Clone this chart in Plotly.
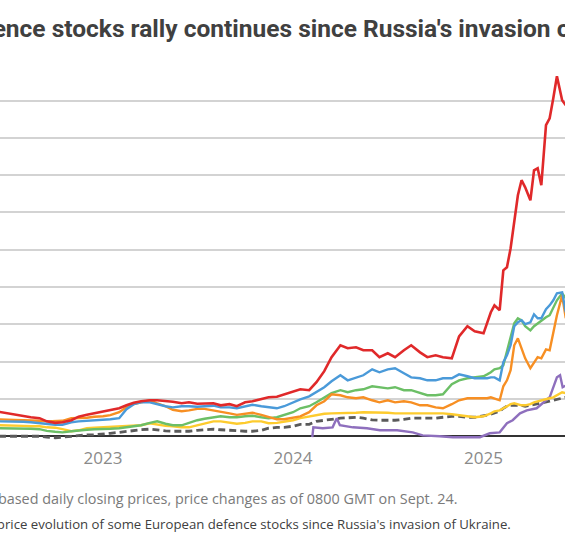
import plotly.graph_objects as go

# semi-monthly closing dates (weekly from 2025)
dates = [
    "2022-06-15", "2022-07-01", "2022-07-15", "2022-08-01", "2022-08-15", "2022-09-01", "2022-09-15",
    "2022-10-01", "2022-10-15", "2022-11-01", "2022-11-15", "2022-12-01", "2022-12-15",
    "2023-01-01", "2023-01-15", "2023-02-01", "2023-02-15", "2023-03-01", "2023-03-15",
    "2023-04-01", "2023-04-15", "2023-05-01", "2023-05-15", "2023-06-01", "2023-06-15",
    "2023-07-01", "2023-07-15", "2023-08-01", "2023-08-15", "2023-09-01", "2023-09-15",
    "2023-10-01", "2023-10-15", "2023-11-01", "2023-11-15", "2023-12-01", "2023-12-15",
    "2024-01-01", "2024-01-15", "2024-02-01", "2024-02-15", "2024-03-01", "2024-03-15",
    "2024-04-01", "2024-04-15", "2024-05-01", "2024-05-15", "2024-06-01", "2024-06-15",
    "2024-07-01", "2024-07-15", "2024-08-01", "2024-08-15", "2024-09-01", "2024-09-15",
    "2024-10-01", "2024-10-15", "2024-11-01", "2024-11-15", "2024-12-01", "2024-12-15",
    "2025-01-01", "2025-01-08", "2025-01-15", "2025-01-22", "2025-02-01", "2025-02-08",
    "2025-02-15", "2025-02-22", "2025-03-01", "2025-03-08", "2025-03-15", "2025-03-22",
    "2025-04-01", "2025-04-08", "2025-04-15", "2025-04-22", "2025-05-01", "2025-05-08",
    "2025-05-15", "2025-05-22", "2025-06-01", "2025-06-08",
]

# % change since the invasion
red = [131, 123, 118, 110, 102, 97, 80, 72, 75, 86, 105, 115, 123,
       131, 139, 150, 166, 180, 188, 193, 193, 190, 185, 177, 182, 174, 177, 177, 166, 172, 161, 182, 188, 198, 209, 212, 225,
       241, 252, 247, 290, 349, 424, 488, 472, 477, 461, 461, 424, 445, 424, 461, 488, 450, 424, 434, 424, 418, 536, 590, 563,
       552, 606, 665, 702, 676, 890, 906, 1008, 1147, 1292, 1373, 1335, 1265, 1426, 1437, 1346, 1668, 1705, 1812, 1930, 1802, 1775]
blue = [80, 80, 80, 78, 75, 70, 64, 62, 62, 75, 80, 83, 86,
        86, 91, 97, 145, 172, 182, 182, 172, 161, 155, 161, 161, 158, 161, 164, 155, 155, 150, 161, 169, 161, 155, 150, 161,
        182, 198, 214, 236, 263, 295, 327, 300, 316, 327, 359, 343, 359, 365, 338, 316, 311, 300, 300, 311, 311, 332, 322, 311,
        311, 311, 316, 316, 300, 397, 434, 488, 590, 611, 622, 601, 611, 654, 633, 633, 681, 702, 729, 767, 772, 665]
green = [43, 43, 43, 43, 40, 38, 29, 24, 21, 27, 32, 35, 38,
         38, 40, 43, 48, 54, 59, 72, 80, 67, 59, 59, 72, 86, 94, 102, 107, 102, 102, 107, 110, 102, 97, 102, 113,
         129, 150, 161, 182, 209, 231, 247, 236, 247, 252, 268, 263, 257, 263, 247, 247, 231, 220, 220, 225, 279, 300, 311, 316,
         322, 332, 343, 359, 365, 381, 461, 536, 606, 633, 622, 590, 568, 590, 606, 617, 638, 649, 686, 729, 767, 740]
orange = [91, 91, 88, 86, 86, 83, 80, 80, 83, 97, 97, 99, 105,
          107, 113, 129, 155, 172, 182, 193, 177, 161, 142, 134, 139, 147, 147, 139, 134, 123, 115, 123, 126, 115, 105, 91, 91,
          102, 107, 129, 166, 188, 225, 220, 209, 204, 209, 193, 182, 193, 182, 188, 182, 166, 166, 155, 150, 172, 193, 204, 204,
          204, 204, 209, 204, 193, 268, 300, 354, 488, 525, 472, 418, 365, 397, 424, 418, 466, 461, 552, 649, 756, 633]
yellow = [59, 59, 56, 56, 54, 54, 48, 46, 38, 27, 32, 43, 46,
          48, 51, 54, 56, 56, 59, 70, 62, 56, 54, 48, 48, 59, 72, 80, 80, 75, 67, 72, 80, 80, 70, 72, 78,
          86, 97, 107, 115, 121, 123, 123, 123, 126, 129, 129, 129, 126, 123, 123, 123, 123, 123, 123, 123, 118, 113, 107, 102,
          107, 113, 123, 134, 139, 150, 161, 172, 177, 172, 166, 166, 172, 182, 188, 193, 198, 204, 209, 220, 236, 231]
index = [0, 0, -3, -3, 0, 0, -5, -8, -5, 0, 5, 8, 8,
         11, 16, 21, 27, 32, 35, 38, 32, 29, 27, 27, 27, 32, 35, 38, 35, 32, 27, 27, 27, 32, 43, 48, 48,
         54, 64, 64, 80, 86, 91, 97, 99, 102, 97, 88, 86, 86, 86, 91, 97, 97, 97, 97, 102, 107, 107, 102, 102,
         107, 113, 118, 123, 134, 150, 161, 166, 166, 166, 166, 161, 166, 172, 177, 177, 182, 188, 193, 198, 204, 209]

# listed later, so it has its own dates
purple_dates = ["2024-02-07", "2024-02-09", "2024-02-27", "2024-03-17", "2024-03-25", "2024-03-31",
                "2024-04-25", "2024-05-22", "2024-06-16", "2024-07-19", "2024-08-18", "2024-09-06",
                "2024-10-09", "2024-11-03", "2024-11-30", "2024-12-25", "2025-01-13", "2025-02-01",
                "2025-02-15", "2025-02-26", "2025-03-12", "2025-03-25", "2025-04-13", "2025-04-25",
                "2025-05-08", "2025-05-22", "2025-05-28", "2025-06-02", "2025-06-09"]
purple = [-5, 48, 43, 48, 97, 59, 48, 43, 32, 32, 21, 5, 0, -5, -5, -5, 16, 21,
          70, 86, 123, 139, 150, 177, 209, 316, 327, 263, 273]

year_ticks = ["2023-01-01", "2024-01-01", "2025-01-01"]
year_labels = ["2023", "2024", "2025"]

fig = go.Figure()

fig.add_trace(go.Scatter(x=dates, y=index, mode="lines",
                         line=dict(color="#5a5a5a", width=2.8, dash="7px,4px")))
fig.add_trace(go.Scatter(x=purple_dates, y=purple, mode="lines",
                         line=dict(color="#8e6fbd", width=2.4)))
fig.add_trace(go.Scatter(x=dates, y=yellow, mode="lines",
                         line=dict(color="#fdcb2e", width=2.4)))
fig.add_trace(go.Scatter(x=dates, y=green, mode="lines",
                         line=dict(color="#6cbf66", width=2.4)))
fig.add_trace(go.Scatter(x=dates, y=orange, mode="lines",
                         line=dict(color="#f78f23", width=2.4)))
fig.add_trace(go.Scatter(x=dates, y=blue, mode="lines",
                         line=dict(color="#4a9ad9", width=2.4)))
fig.add_trace(go.Scatter(x=dates, y=red, mode="lines",
                         line=dict(color="#e0292a", width=2.6)))

fig.update_layout(
    width=565, height=540,
    margin=dict(l=0, r=0, t=67, b=100),
    paper_bgcolor="white", plot_bgcolor="white",
    showlegend=False,
    font=dict(family="Open Sans, sans-serif", color="#404040"),
)

fig.update_xaxes(
    range=["2022-06-17", "2025-06-06 12:00"],
    tickvals=year_ticks, ticktext=year_labels,
    tickfont=dict(size=17, color="#8a8a8a"),
    showgrid=False, showline=False, ticks="", zeroline=False,
    ticklabelstandoff=6,
)
fig.update_yaxes(
    range=[-20, 1980], tick0=0, dtick=200,
    showticklabels=False,
    gridcolor="#d3d3d3", gridwidth=1.5,
    zeroline=True, zerolinecolor="#333333", zerolinewidth=1.5,
)

# texts are wider than the window, their ends are cut off as in the crop
fig.add_annotation(
    text="Defence stocks rally continues since Russia's invasion of Ukraine",
    xref="paper", yref="paper", x=-0.083, y=1.102,
    xanchor="left", yanchor="middle", showarrow=False,
    font=dict(family="Roboto, sans-serif", size=24.5, color="#404040", weight=700),
)
fig.add_annotation(
    text="Rebased daily closing prices, price changes as of 0800 GMT on Sept. 24.",
    xref="paper", yref="paper", x=-0.038, y=-0.158,
    xanchor="left", yanchor="middle", showarrow=False,
    font=dict(size=14.4, color="#7a7a7a"),
)
fig.add_annotation(
    text="Share price evolution of some European defence stocks since Russia's invasion of Ukraine.",
    xref="paper", yref="paper", x=-0.077, y=-0.225,
    xanchor="left", yanchor="middle", showarrow=False,
    font=dict(size=13.2, color="#404040"),
)

# drop the page margin so the 565x540 figure fills the window
fig.write_html("out.html", config={"displayModeBar": False},
               post_script="document.body.style.margin='0';document.body.style.overflow='hidden';")
